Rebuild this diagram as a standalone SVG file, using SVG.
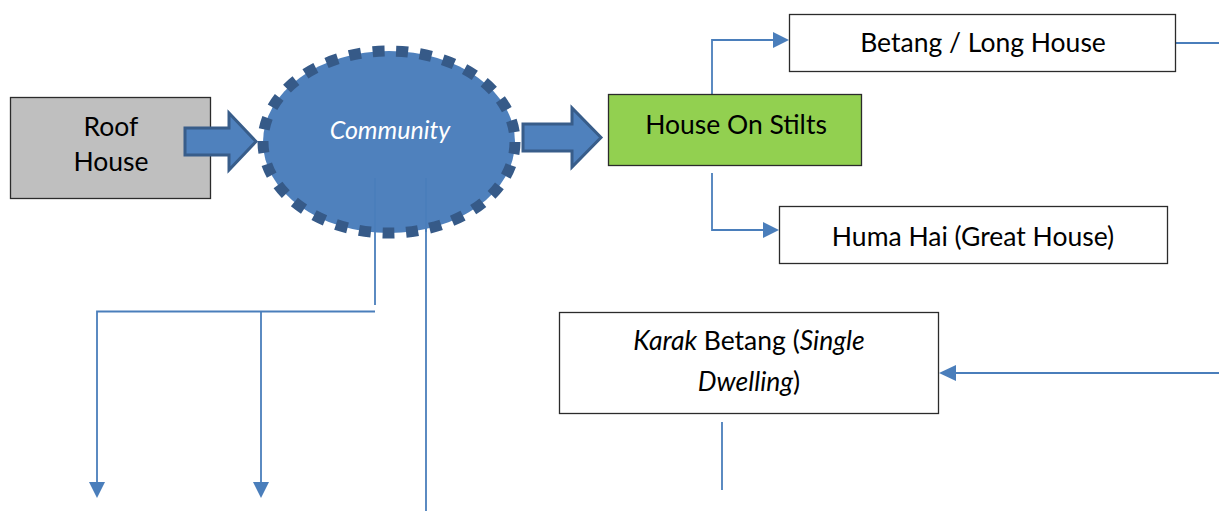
<svg xmlns="http://www.w3.org/2000/svg" width="1219" height="511" viewBox="0 0 1219 511">
<defs>
<style>
.box{stroke:#2b2b2b;stroke-width:1.3}
.t{font-family:Lato,"Liberation Sans",sans-serif;font-size:26.5px;fill:#000;text-anchor:middle}
.ln{fill:none;stroke:#4a7ebb;stroke-width:1.8}
.blk{fill:#4f81bd;stroke:#385d8a;stroke-width:3;stroke-linejoin:miter}
</style>
</defs>
<rect width="1219" height="511" fill="#fff"/>

<g id="connectors">
<path class="ln" d="M712,97 V40 H774" />
<path d="M789,40 L773,32 L773,48 Z" fill="#4a7ebb"/>
<path class="ln" d="M712,173 V230 H764" />
<path d="M779,230 L763,222 L763,238 Z" fill="#4a7ebb"/>
<path class="ln" d="M1176,43 H1219" />
<path class="ln" d="M1219,373 H955" />
<path d="M939,373 L956,365 L956,381 Z" fill="#4a7ebb"/>
<path class="ln" d="M722,422 V490" />
<path class="ln" d="M375,178 V305" />
<path class="ln" d="M375,311.5 H97 V484" />
<path d="M97,498 L89,482 L105,482 Z" fill="#4a7ebb"/>
<path class="ln" d="M261,311.5 V484" />
<path d="M261,498 L253,482 L269,482 Z" fill="#4a7ebb"/>
<path class="ln" d="M426,178 V511" />
</g>

<g id="roof-house">
<rect class="box" x="10.5" y="97.5" width="200" height="101" fill="#bfbfbf"/>
<text class="t" x="111" y="136">Roof</text>
<text class="t" x="111" y="171">House</text>
</g>

<g id="arrow-roof-community">
<path class="blk" d="M185,128 H229 V113 L256,141.5 L229,170 V155 H185 Z"/>
</g>

<g id="community">
<ellipse cx="389" cy="142" rx="126" ry="91" fill="#4f81bd" stroke="#365a88" stroke-width="11" stroke-dasharray="12 11.7"/>
<path class="ln" d="M375,178 V232 M426,178 V232" stroke-width="1.2"/>
<text x="390" y="139" style="font-family:Lato,'Liberation Sans',sans-serif;font-size:25px;font-style:italic;fill:#fff;text-anchor:middle">Community</text>
</g>

<g id="arrow-community-stilts">
<path class="blk" d="M523,124 H572 V108 L601,137.5 L572,167 V151 H523 Z"/>
</g>

<g id="house-on-stilts">
<rect class="box" x="608.5" y="94.5" width="253" height="71" fill="#92d050"/>
<text class="t" x="736" y="134">House On Stilts</text>
</g>

<g id="betang">
<rect class="box" x="789.5" y="14.5" width="386" height="57" fill="#fff"/>
<text class="t" x="983" y="52">Betang / Long House</text>
</g>

<g id="huma-hai">
<rect class="box" x="779.5" y="206.5" width="388" height="57" fill="#fff"/>
<text class="t" x="973" y="246">Huma Hai (Great House)</text>
</g>

<g id="karak-betang">
<rect class="box" x="559.5" y="312.5" width="379" height="101" fill="#fff"/>
<text class="t" x="749" y="350"><tspan font-style="italic">Karak</tspan> Betang (<tspan font-style="italic">Single</tspan></text>
<text class="t" x="749" y="391"><tspan font-style="italic">Dwelling</tspan>)</text>
</g>
</svg>
